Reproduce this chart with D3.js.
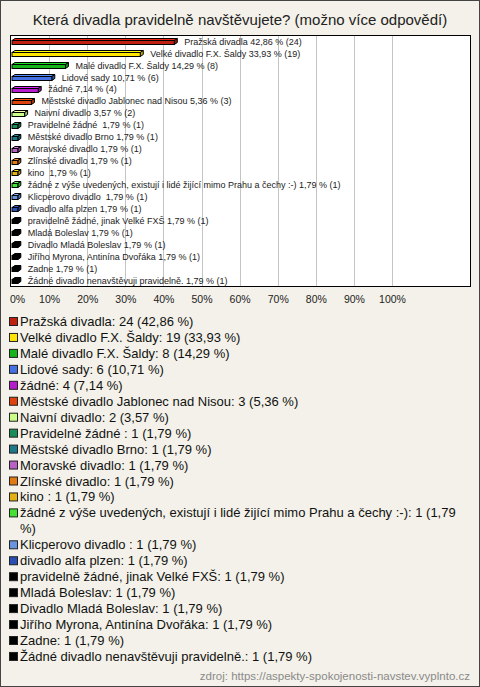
<!DOCTYPE html>
<html>
<head>
<meta charset="utf-8">
<script src="https://cdn.jsdelivr.net/npm/d3@7/dist/d3.min.js"></script>
<style>
  html, body { margin: 0; padding: 0; background: #f3f1e9; }
  svg { display: block; font-family: "Liberation Sans", Arial, sans-serif; }
  text { white-space: pre; }
</style>
</head>
<body>
<svg id="chart" width="480" height="687"></svg>
<script>
const title = "Která divadla pravidelně navštěvujete? (možno více odpovědí)";
const source = "zdroj: https://aspekty-spokojenosti-navstev.vyplnto.cz";

const categories = [
  "Pražská divadla",
  "Velké divadlo F.X. Šaldy",
  "Malé divadlo F.X. Šaldy",
  "Lidové sady",
  "žádné",
  "Městské divadlo Jablonec nad Nisou",
  "Naivní divadlo",
  "Pravidelné žádné ",
  "Městské divadlo Brno",
  "Moravské divadlo",
  "Zlínské divadlo",
  "kino ",
  "žádné z výše uvedených, existují i lidé žijící mimo Prahu a čechy :-)",
  "Klicperovo divadlo ",
  "divadlo alfa plzen",
  "pravidelně žádné, jinak Velké FXŠ",
  "Mladá Boleslav",
  "Divadlo Mladá Boleslav",
  "Jiřího Myrona, Antinína Dvořáka",
  "Zadne",
  "Žádné divadlo nenavštěvuji pravidelně."
];
const counts = [24, 19, 8, 6, 4, 3, 2, 1, 1, 1, 1, 1, 1, 1, 1, 1, 1, 1, 1, 1, 1];
const percents = [42.86, 33.93, 14.29, 10.71, 7.14, 5.36, 3.57, 1.79, 1.79, 1.79, 1.79, 1.79, 1.79, 1.79, 1.79, 1.79, 1.79, 1.79, 1.79, 1.79, 1.79];
const colors = [
  "#c0200f", "#ffe400", "#16b41a", "#4470e4", "#b41ccc", "#e0420e", "#ccff88",
  "#1a8c5a", "#1e7888", "#b862c4", "#e27a14", "#e2b012", "#44e034", "#6a94dc",
  "#2a4eb4", "#000000", "#000000", "#000000", "#000000", "#000000", "#000000"
];
const tickValues = [0, 10, 20, 30, 40, 50, 60, 70, 80, 90, 100];

const fmt = v => v.toFixed(2).replace(".", ",");
const data = categories.map((c, i) => ({ name: c, n: counts[i], p: percents[i], color: colors[i] }));

const svg = d3.select("#chart");
const W = 480, H = 687;

// background + outer border
svg.append("rect").attr("x", 0.5).attr("y", 0.5).attr("width", W - 1).attr("height", H - 1)
  .attr("fill", "#f3f1e9").attr("stroke", "#444");

// title
svg.append("text").attr("x", W / 2).attr("y", 25).attr("text-anchor", "middle")
  .attr("font-size", 15).attr("fill", "#222").text(title);

// plot area
const plot = { x0: 10.5, x1: 470.5, y0: 35.5, y1: 286.5 };
svg.append("rect").attr("x", plot.x0).attr("y", plot.y0)
  .attr("width", plot.x1 - plot.x0).attr("height", plot.y1 - plot.y0)
  .attr("fill", "#ffffff");

const x = d3.scaleLinear().domain([0, 100]).range([11, 392]);
const y = d3.scaleBand().domain(d3.range(data.length)).range([plot.y0, plot.y1]).padding(0);

// grid
svg.append("g").selectAll("line").data(tickValues.slice(1)).join("line")
  .attr("x1", d => Math.round(x(d)) + 0.5).attr("x2", d => Math.round(x(d)) + 0.5)
  .attr("y1", plot.y0).attr("y2", plot.y1)
  .attr("stroke", "#c4c4c4").attr("stroke-width", 1);

// bars (pseudo 3D)
const dx = 3, dy = 2, bh = 4;
const bars = svg.append("g");
data.forEach((d, i) => {
  const cy = y(i) + y.bandwidth() / 2;
  const top = Math.round(cy - 1.5) + 0.5;
  const xa = x(0) + 1, xb = x(d.p);
  const g = bars.append("g");
  const dark = d3.color(d.color).darker(0.8);
  const light = d3.color(d.color).brighter(0.6);
  g.append("polygon")
    .attr("points", [[xa, top], [xa + dx, top - dy], [xb + dx, top - dy], [xb, top]].map(p => p.join(",")).join(" "))
    .attr("fill", light).attr("stroke", "#000").attr("stroke-width", 1);
  g.append("polygon")
    .attr("points", [[xb, top], [xb + dx, top - dy], [xb + dx, top + bh - dy], [xb, top + bh]].map(p => p.join(",")).join(" "))
    .attr("fill", dark).attr("stroke", "#000").attr("stroke-width", 1);
  g.append("rect").attr("x", xa).attr("y", top).attr("width", Math.max(0, xb - xa)).attr("height", bh)
    .attr("fill", d.color).attr("stroke", "#000").attr("stroke-width", 1);
  svg.append("text").attr("x", x(d.p) + 10).attr("y", cy + 3.2)
    .attr("font-size", 9).attr("fill", "#222")
    .text(d.name + " " + fmt(d.p) + " % (" + d.n + ")");
});

// plot border
svg.append("rect").attr("x", plot.x0).attr("y", plot.y0)
  .attr("width", plot.x1 - plot.x0).attr("height", plot.y1 - plot.y0)
  .attr("fill", "none").attr("stroke", "#000");

// x axis labels
const axis = d3.axisBottom(x).tickValues(tickValues).tickFormat(d => d + "%").tickSize(0).tickPadding(0);
const ax = svg.append("g").attr("transform", "translate(0," + 296 + ")").call(axis);
ax.select(".domain").remove();
ax.selectAll("text").attr("font-size", 10.5).attr("fill", "#222")
  .attr("font-family", "Liberation Sans, Arial, sans-serif");
ax.selectAll(".tick").filter(d => d === 0).select("text").attr("dx", 6);

// legend
const lg = svg.append("g");
let ly = 326;
const step = 15.95;
const maxW = 448;
data.forEach((d, i) => {
  lg.append("rect").attr("x", 9.5).attr("y", ly - 8.5).attr("width", 8).attr("height", 8)
    .attr("fill", d.color).attr("stroke", "#222").attr("stroke-width", 1);
  const label = d.name + ": " + d.n + " (" + fmt(d.p) + " %)";
  const words = label.split(" ");
  let line = "";
  const t = lg.append("text").attr("x", 20).attr("y", ly).attr("font-size", 13).attr("fill", "#111").text("");
  words.forEach((w, k) => {
    const test = line === "" ? w : line + " " + w;
    t.text(test);
    if (t.node().getComputedTextLength() > maxW && line !== "") {
      t.text(line);
      ly += step;
      line = w;
      lg.append("text").attr("x", 20).attr("y", ly).attr("font-size", 13).attr("fill", "#111").attr("class", "cont").text(w);
    } else {
      line = test;
    }
  });
  // if wrapped, finalize the continuation line
  const conts = lg.selectAll("text.cont").nodes();
  if (conts.length) {
    const last = conts[conts.length - 1];
    if (+last.getAttribute("y") === ly && line !== t.text()) d3.select(last).text(line);
  }
  ly += step;
});

// source
svg.append("text").attr("x", 470).attr("y", 680).attr("text-anchor", "end")
  .attr("font-size", 11.5).attr("fill", "#8a8a8a").text(source);
</script>
</body>
</html>
